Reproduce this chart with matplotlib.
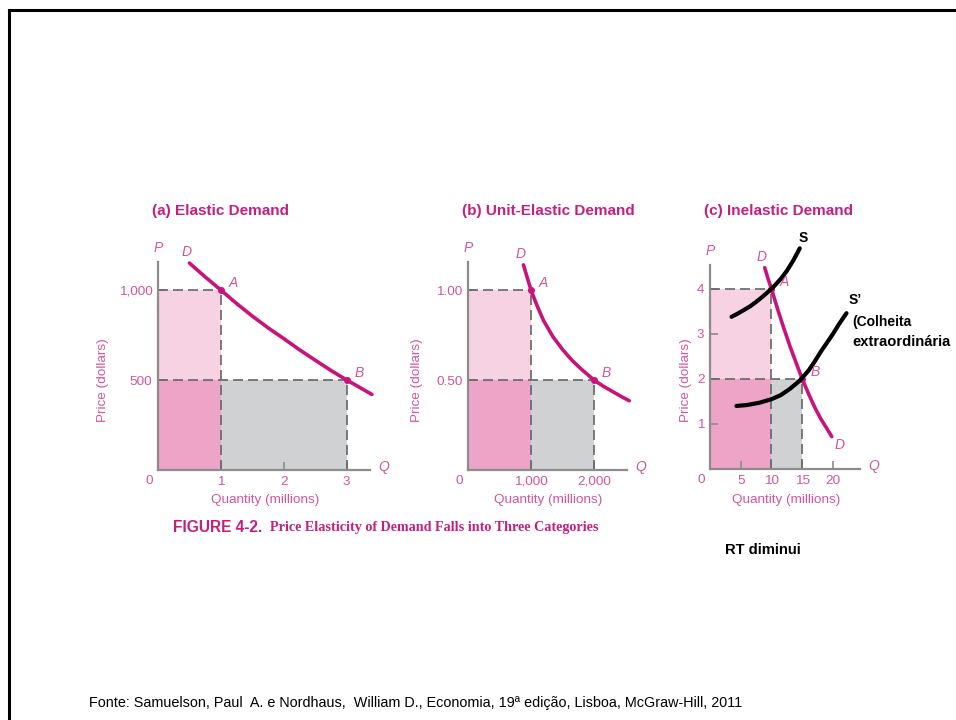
import matplotlib.pyplot as plt
from matplotlib.lines import Line2D

# demand curves
a_q = [0.5, 0.75, 1.0, 1.25, 1.5, 1.75, 2.0, 2.25, 2.5, 2.75, 3.0, 3.2, 3.4]
a_p = [1150, 1073, 1000, 925, 855, 790, 730, 668, 610, 553, 500, 460, 420]
b_q = [880, 940, 1000, 1100, 1200, 1350, 1500, 1650, 1800, 2000, 2150, 2300, 2450, 2560]
b_p = [1.14, 1.07, 1.00, 0.91, 0.83, 0.74, 0.67, 0.61, 0.56, 0.50, 0.465, 0.435, 0.405, 0.385]
c_q = [8.9, 9.5, 10, 11, 12, 13, 14, 15, 16, 17, 18, 19, 19.8]
c_p = [4.47, 4.2, 4.0, 3.55, 3.13, 2.73, 2.36, 2.0, 1.68, 1.38, 1.12, 0.9, 0.72]

# supply curves drawn on panel (c)
s_q = [3.5, 4.5, 5.5, 6.5, 7.5, 8.5, 9.5, 10.5, 11.5, 12.5, 13.5, 14.1, 14.6]
s_p = [3.38, 3.45, 3.53, 3.61, 3.71, 3.82, 3.94, 4.07, 4.22, 4.4, 4.62, 4.77, 4.9]
s2_q = [4.3, 6, 8, 10, 11.5, 13, 14.5, 16, 17, 18, 19, 20, 21, 22.2]
s2_p = [1.40, 1.42, 1.47, 1.55, 1.64, 1.78, 1.95, 2.18, 2.38, 2.6, 2.8, 3.0, 3.22, 3.46]

# points A and B (q, p)
a_pts = [(1, 1000), (3, 500)]
b_pts = [(1000, 1.0), (2000, 0.5)]
c_pts = [(10, 4), (15, 2)]

titles = ['(a) Elastic Demand', '(b) Unit-Elastic Demand', '(c) Inelastic Demand']
xticks = [[1, 2, 3], [1000, 2000], [5, 10, 15, 20]]
xticklabels = [['1', '2', '3'], ['1,000', '2,000'], ['5', '10', '15', '20']]
yticks = [[500, 1000], [0.5, 1.0], [1, 2, 3, 4]]
yticklabels = [['500', '1,000'], ['0.50', '1.00'], ['1', '2', '3', '4']]

W, H = 956, 720
CURVE = '#c8137b'
TITLE = '#c41f7e'
TICK = '#d4559b'
AXIS = '#8c8c8c'
LIGHT = '#f7d2e2'
MID = '#eea4c6'
GRAY = '#cfd1d3'

plt.rcParams['font.family'] = ['Liberation Sans', 'DejaVu Sans']

fig = plt.figure(figsize=(W / 100, H / 100), dpi=100)


def px_axes(left, right, top, bottom):
    return [left / W, 1 - bottom / H, (right - left) / W, (bottom - top) / H]


boxes = [px_axes(158, 370, 262, 470), px_axes(468, 627, 262, 470), px_axes(710, 860, 265, 469)]
limits = [((0, 3.37), (0, 1156)), ((0, 2524), (0, 1.156)), ((0, 24.4), (0, 4.53))]
curves = [(a_q, a_p), (b_q, b_p), (c_q, c_p)]
points = [a_pts, b_pts, c_pts]
title_x = [220, 548, 778]
ylabel_x = [103, 417, 686]
xlabel_x = [265, 548, 786]

for i in range(3):
    ax = fig.add_axes(boxes[i])
    ax.set_xlim(*limits[i][0])
    ax.set_ylim(*limits[i][1])
    for s in ['top', 'right']:
        ax.spines[s].set_visible(False)
    for s in ['left', 'bottom']:
        ax.spines[s].set_color(AXIS)
        ax.spines[s].set_linewidth(1.6)
    ax.patch.set_alpha(0)

    (qa, pa), (qb, pb) = points[i]
    ax.fill_between([0, qa], pb, pa, color=LIGHT, lw=0)
    ax.fill_between([0, qa], 0, pb, color=MID, lw=0)
    ax.fill_between([qa, qb], 0, pb, color=GRAY, lw=0)
    dash = dict(color='#666666', lw=1.2, dashes=(6, 3))
    ax.plot([0, qa], [pa, pa], **dash)
    ax.plot([qa, qa], [0, pa], **dash)
    ax.plot([0, qb], [pb, pb], **dash)
    ax.plot([qb, qb], [0, pb], **dash)

    q, p = curves[i]
    ax.plot(q, p, color=CURVE, lw=2.6, solid_capstyle='round', solid_joinstyle='round',
            clip_on=False)
    ax.plot([qa, qb], [pa, pb], 'o', color=CURVE, ms=4, clip_on=False)

    ax.set_xticks(xticks[i])
    ax.set_xticklabels(xticklabels[i])
    ax.set_yticks(yticks[i])
    ax.set_yticklabels(yticklabels[i])
    ax.tick_params(direction='in', length=6, width=1.2, color=AXIS,
                   labelcolor=TICK, labelsize=9.7, pad=4)

    ital = dict(color=TICK, fontsize=10, style='italic', ha='center', va='center')
    ax.annotate('A', (qa, pa), xytext=(9, 5), textcoords='offset points', **ital)
    ax.annotate('B', (qb, pb), xytext=(9, 5), textcoords='offset points', **ital)
    ax.annotate('D', (q[0], p[0]), xytext=(-2, 8), textcoords='offset points', **ital)
    ax.annotate('D', (q[-1], p[-1]), xytext=(6, -6), textcoords='offset points', **ital)
    ax.annotate('P', (0, 1), xycoords='axes fraction', xytext=(0, 10),
                textcoords='offset points', **ital)
    ax.annotate('Q', (1, 0), xycoords='axes fraction', xytext=(10, 2),
                textcoords='offset points', **ital)
    ax.annotate('0', (0, 0), xycoords='axes fraction', xytext=(-6, -8),
                textcoords='offset points', color=TICK, fontsize=9.7, ha='center', va='center')

    fig.text(title_x[i] / W, 1 - 211 / H, titles[i], color=TITLE, fontsize=11,
             fontweight='bold', ha='center', va='center')
    fig.text(ylabel_x[i] / W, 1 - 380 / H, 'Price (dollars)', color=TICK, fontsize=9.7,
             rotation=90, ha='center', va='center')
    fig.text(xlabel_x[i] / W, 1 - 500 / H, 'Quantity (millions)', color=TICK, fontsize=9.7,
             ha='center', va='center')

    if i == 2:
        for sq, sp in [(s_q, s_p), (s2_q, s2_p)]:
            ax.plot(sq, sp, color='black', lw=3, clip_on=False,
                    solid_capstyle='round', solid_joinstyle='round')

fig.text(803 / W, 1 - 238 / H, 'S', fontsize=10, fontweight='bold', ha='center', va='center')
fig.text(855 / W, 1 - 300 / H, 'S\u2019', fontsize=10, fontweight='bold', ha='center', va='center')
fig.text(852 / W, 1 - 322 / H, '(Colheita', fontsize=10, fontweight='bold', ha='left', va='center')
fig.text(852 / W, 1 - 342 / H, 'extraordinária', fontsize=10.6, fontweight='bold', ha='left', va='center')

fig.text(173 / W, 1 - 527 / H, 'FIGURE 4-2.', color=TITLE, fontsize=11.2,
         fontweight='bold', ha='left', va='center')
fig.text(270 / W, 1 - 527 / H, 'Price Elasticity of Demand Falls into Three Categories',
         color=TITLE, fontsize=10.2, fontweight='bold', family='Liberation Serif',
         ha='left', va='center')

fig.text(763 / W, 1 - 550 / H, 'RT diminui', fontsize=10.6, fontweight='bold',
         ha='center', va='center')
fig.text(89 / W, 1 - 703 / H,
         'Fonte: Samuelson, Paul  A. e Nordhaus,  William D., Economia, 19ª edição, Lisboa, McGraw-Hill, 2011',
         fontsize=10.35, ha='left', va='center')

# slide frame
fig.add_artist(Line2D([9 / W, 9 / W], [0, 1 - 10 / H], color='black', lw=2.2))
fig.add_artist(Line2D([9 / W, 1], [1 - 10 / H, 1 - 10 / H], color='black', lw=2.2))

fig.savefig('out.png', dpi=100)
